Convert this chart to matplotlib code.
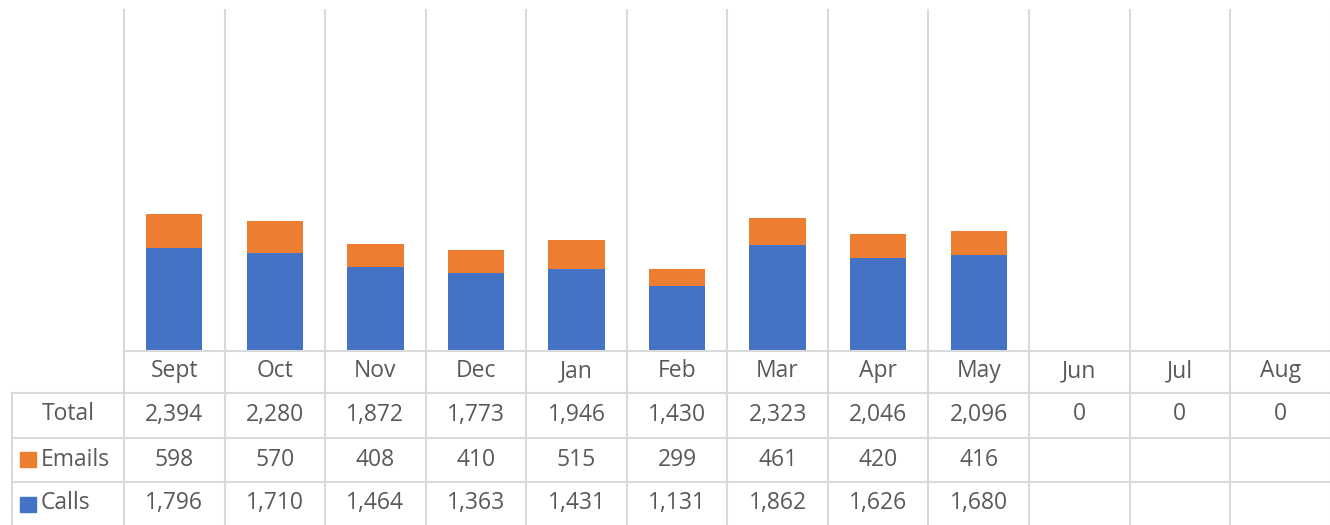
import matplotlib
matplotlib.use("Agg")
import matplotlib.pyplot as plt
from matplotlib.transforms import blended_transform_factory
from matplotlib.patches import Rectangle
import numpy as np

months = ["Sept", "Oct", "Nov", "Dec", "Jan", "Feb", "Mar", "Apr", "May", "Jun", "Jul", "Aug"]
emails = [598, 570, 408, 410, 515, 299, 461, 420, 416, None, None, None]
calls = [1796, 1710, 1464, 1363, 1431, 1131, 1862, 1626, 1680, None, None, None]
totals = [2394, 2280, 1872, 1773, 1946, 1430, 2323, 2046, 2096, 0, 0, 0]
row_labels = ["Total", "Emails", "Calls"]

BLUE = "#4472C4"
ORANGE = "#ED7D31"
GRID = "#D9D9D9"
TXT = "#595959"
FONT = ["Open Sans", "DejaVu Sans"]

W, H = 1330, 525
fig = plt.figure(figsize=(W / 100, H / 100), dpi=100)
fig.patch.set_facecolor("white")

def fy(p):
    return 1 - p / H

# plot area
ax = fig.add_axes([124 / W, fy(351), (12 * 100.55) / W, (351 - 8) / H])
x = np.arange(len(months))
e = np.array([v if v is not None else 0 for v in emails], dtype=float)
c = np.array([v if v is not None else 0 for v in calls], dtype=float)
ax.bar(x, c, 0.56, color=BLUE, zorder=3)
ax.bar(x, e, 0.56, bottom=c, color=ORANGE, zorder=3)
ax.set_xlim(-0.5, len(months) - 0.5)
ax.set_ylim(0, 6000)
ax.axis("off")

tr = blended_transform_factory(ax.transData, fig.transFigure)
trf = fig.transFigure

# vertical grid / table lines
for b in np.arange(len(months) + 1) - 0.5:
    fig.add_artist(plt.Line2D([b, b], [fy(10), fy(526)], transform=tr, color=GRID, lw=1.5, zorder=1))
# left edge of table
fig.add_artist(plt.Line2D([12 / W, 12 / W], [fy(393), fy(526)], transform=trf, color=GRID, lw=1.5))
# horizontal lines
fig.add_artist(plt.Line2D([124 / W, 1], [fy(351), fy(351)], transform=trf, color=GRID, lw=1.5))
for yy in [393, 438, 482]:
    fig.add_artist(plt.Line2D([12 / W, 1], [fy(yy), fy(yy)], transform=trf, color=GRID, lw=1.5))

fs = 16.5
# category row
for i, m in enumerate(months):
    fig.text(i, fy(377), m, transform=tr, ha="center", va="baseline", fontsize=fs, color=TXT, family=FONT)

def fmt(v):
    return "" if v is None else f"{v:,}"

row_base = [420.5, 465.5, 509]
series = [totals, emails, calls]
for rb, vals in zip(row_base, series):
    for i, v in enumerate(vals):
        fig.text(i, fy(rb), fmt(v), transform=tr, ha="center", va="baseline", fontsize=fs, color=TXT, family=FONT)

# row headers
fig.text(68 / W, fy(420.5), row_labels[0], transform=trf, ha="center", va="baseline", fontsize=fs, color=TXT, family=FONT)
fig.text(41 / W, fy(465.5), row_labels[1], transform=trf, ha="left", va="baseline", fontsize=fs, color=TXT, family=FONT)
fig.text(41 / W, fy(509), row_labels[2], transform=trf, ha="left", va="baseline", fontsize=fs, color=TXT, family=FONT)
for top, col in [(452, ORANGE), (497, BLUE)]:
    fig.add_artist(Rectangle((19.5 / W, fy(top + 15)), 16 / W, 15 / H, transform=trf, color=col))

fig.savefig("out.png", dpi=100)
